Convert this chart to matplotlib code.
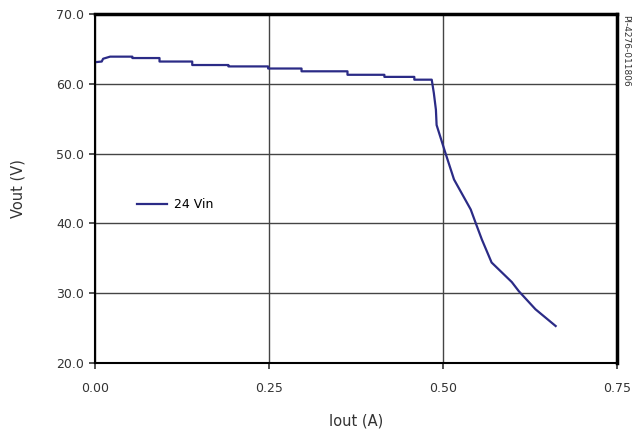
import matplotlib.pyplot as plt

# Iout (A) vs Vout (V), 24 Vin
iout = [0.000, 0.010, 0.012, 0.022, 0.054, 0.054, 0.093, 0.093, 0.140, 0.140,
        0.192, 0.192, 0.249, 0.249, 0.297, 0.297, 0.363, 0.363, 0.416, 0.416,
        0.459, 0.459, 0.484, 0.487, 0.490, 0.491, 0.503, 0.516, 0.540, 0.547,
        0.556, 0.570, 0.599, 0.609, 0.633, 0.662]
vout = [63.1, 63.2, 63.6, 63.9, 63.9, 63.7, 63.7, 63.2, 63.2, 62.7,
        62.7, 62.5, 62.5, 62.2, 62.2, 61.8, 61.8, 61.3, 61.3, 61.0,
        61.0, 60.6, 60.6, 58.7, 56.3, 54.1, 50.3, 46.3, 42.0, 40.1,
        37.7, 34.4, 31.6, 30.3, 27.7, 25.3]

x_ticks = [0.00, 0.25, 0.50, 0.75]
y_ticks = [20.0, 30.0, 40.0, 50.0, 60.0, 70.0]

fig = plt.figure(figsize=(6.36, 4.4), dpi=100)
ax = fig.add_axes([0.149, 0.175, 0.821, 0.793])

ax.plot(iout, vout, color='#2b2b86', linewidth=1.6, label='24 Vin')

ax.set_xlim(0, 0.75)
ax.set_ylim(20, 70)
ax.set_xticks(x_ticks)
ax.set_xticklabels([f'{t:.2f}' for t in x_ticks])
ax.set_yticks(y_ticks)
ax.set_yticklabels([f'{t:.1f}' for t in y_ticks])
ax.grid(True, color='#444444', linewidth=1.0)
ax.tick_params(direction='out', length=4, width=1.2, labelsize=9, colors='#333333')
ax.tick_params(axis='x', pad=10)

ax.spines['left'].set_linewidth(1.5)
ax.spines['bottom'].set_linewidth(1.5)
ax.spines['top'].set_linewidth(2.5)
ax.spines['right'].set_linewidth(2.5)

ax.set_xlabel('Iout (A)', fontsize=10.5, color='#333333', labelpad=13)
ax.set_ylabel('Vout (V)', fontsize=10.5, color='#333333', labelpad=22)

ax.legend(loc='center left', bbox_to_anchor=(0.08, 0.453), frameon=False,
          fontsize=9, handlelength=2.4, handletextpad=0.6,
          borderpad=0, borderaxespad=0)

fig.text(0.984, 0.965, 'PI-4276-011806', rotation=270, fontsize=6.5,
         color='#333333', ha='center', va='top')

fig.savefig('out.png', dpi=100)
